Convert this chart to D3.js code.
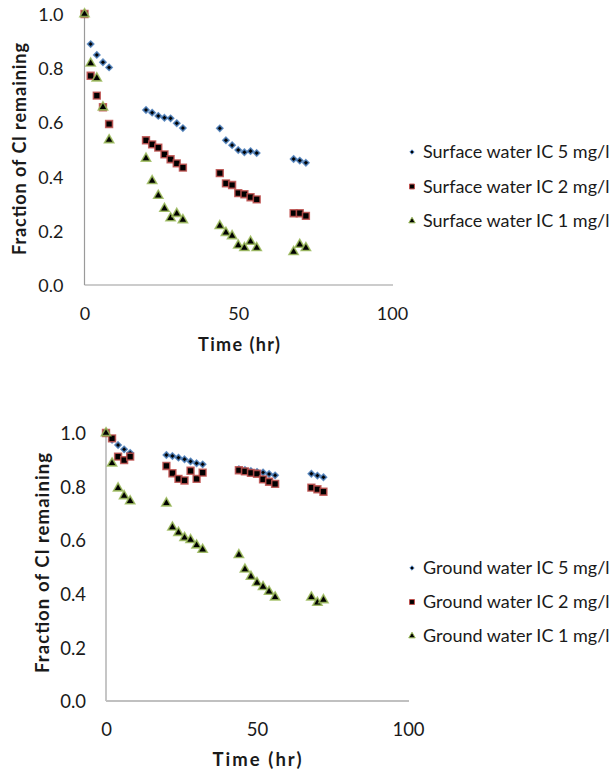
<!DOCTYPE html>
<html>
<head>
<meta charset="UTF-8">
<script src="https://d3js.org/d3.v7.min.js"></script>
<title>Fraction of Cl remaining</title>
<style>
  body { margin:0; background:#fff; }
  text { font-family: Lato, "Open Sans", sans-serif; fill:#1a1a1a; }
  .ttl { font-weight:bold; }
</style>
</head>
<body>
<div id="chart"></div>
<script>
// sampling times (hr), same for all series
var hours = [0,2,4,6,8,20,22,24,26,28,30,32,44,46,48,50,52,54,56,68,70,72];

// surface water
var sw5 = [1.0,0.889,0.849,0.822,0.803,0.646,0.636,0.624,0.617,0.615,0.597,0.579,0.578,0.534,0.516,0.498,0.490,0.494,0.487,0.465,0.459,0.451];
var sw2 = [1.0,0.772,0.699,0.656,0.594,0.534,0.519,0.507,0.482,0.464,0.449,0.433,0.413,0.375,0.369,0.339,0.335,0.324,0.316,0.265,0.265,0.255];
var sw1 = [1.0,0.818,0.763,0.656,0.535,0.467,0.384,0.330,0.282,0.247,0.263,0.240,0.218,0.193,0.181,0.146,0.137,0.160,0.137,0.122,0.149,0.137];

// ground water
var gw5 = [1.0,0.975,0.955,0.939,0.926,0.918,0.914,0.908,0.902,0.894,0.887,0.883,0.865,0.862,0.858,0.855,0.853,0.847,0.842,0.848,0.841,0.835];
var gw2 = [1.0,0.980,0.912,0.899,0.912,0.877,0.850,0.829,0.823,0.859,0.829,0.852,0.861,0.857,0.851,0.848,0.827,0.818,0.810,0.796,0.790,0.781];
var gw1 = [1.0,0.887,0.794,0.765,0.746,0.738,0.648,0.628,0.609,0.601,0.581,0.565,0.545,0.491,0.464,0.441,0.426,0.408,0.387,0.387,0.367,0.377];

var swNames = ['Surface water IC 5 mg/l','Surface water IC 2 mg/l','Surface water IC 1 mg/l'];
var gwNames = ['Ground water IC 5 mg/l','Ground water IC 2 mg/l','Ground water IC 1 mg/l'];
var xTicks = [0,50,100];
var yTicks = [0,0.2,0.4,0.6,0.8,1.0];

var W = 612, H = 776;
var svg = d3.select('#chart').append('svg').attr('width',W).attr('height',H);

// marker looks: colored edge, black fill
var marks = [
  {type:d3.symbolDiamond2, size:24, legSize:12, color:'#4a7ebb'},
  {type:d3.symbolSquare,   size:46, legSize:24, color:'#c0504d'},
  {type:d3.symbolTriangle, size:36, legSize:18, color:'#9bbb59'}
];

function panel(p){
  var x = d3.scaleLinear().domain([0,100]).range([p.x0,p.x1]);
  var y = d3.scaleLinear().domain([0,1]).range([p.yb,p.yt]);
  var g = svg.append('g');

  // axis lines
  g.append('line').attr('x1',x(0)).attr('x2',x(0)).attr('y1',y(1)).attr('y2',y(0))
    .attr('stroke',p.axisColor).attr('stroke-width',p.axisW);
  g.append('line').attr('x1',x(0)).attr('x2',x(100)+1).attr('y1',y(0)).attr('y2',y(0))
    .attr('stroke',p.axisColor).attr('stroke-width',p.axisW);

  var xa = g.append('g').attr('transform','translate(0,'+y(0)+')')
    .call(d3.axisBottom(x).tickValues(xTicks).tickSize(0).tickFormat(d3.format('d')));
  xa.select('.domain').remove();
  xa.selectAll('text').attr('dy',null).attr('y',35).style('font-size',p.fs+'px');

  var ya = g.append('g').attr('transform','translate('+x(0)+',0)')
    .call(d3.axisLeft(y).tickValues(yTicks).tickSize(0).tickPadding(p.yPad).tickFormat(d3.format('.1f')));
  ya.select('.domain').remove();
  ya.selectAll('text').attr('dy','0.36em').style('font-size',p.fs+'px');

  // titles
  g.append('text').attr('class','ttl').attr('text-anchor','middle').style('font-size',p.fs+'px')
    .attr('x',p.xtX).attr('y',p.xtY).attr('textLength',p.xtLen).text('Time (hr)');
  g.append('text').attr('class','ttl').attr('text-anchor','middle').style('font-size',p.fs+'px')
    .attr('transform','translate('+p.ytX+','+p.ytY+') rotate(-90)').attr('dy','0.35em')
    .attr('textLength',p.ytLen).text('Fraction of Cl remaining');

  // points
  p.series.forEach(function(vals,si){
    var m = marks[si];
    g.append('g').selectAll('path').data(vals).enter().append('path')
      .attr('d',d3.symbol().type(m.type).size(m.size))
      .attr('transform',function(d,i){ return 'translate('+x(hours[i])+','+y(d)+')'; })
      .attr('fill','#000').attr('stroke',m.color).attr('stroke-width',1.6)
      .attr('stroke-opacity',0.85);
  });

  // legend
  p.names.forEach(function(n,si){
    var m = marks[si];
    var ly = p.legY + si*p.legStep;
    g.append('path').attr('d',d3.symbol().type(m.type).size(m.legSize))
      .attr('transform','translate(412,'+ly+')')
      .attr('fill','#000').attr('stroke',m.color).attr('stroke-width',1);
    g.append('text').attr('x',423).attr('y',ly).attr('dy','0.36em')
      .style('font-size','18px').text(n);
  });
}

panel({x0:84.5, x1:392, yt:14, yb:285, axisColor:'#9a9a9a', axisW:1.2, yPad:21, fs:18,
  xtX:239, xtY:351, xtLen:82, ytX:20, ytY:149, ytLen:212,
  series:[sw5,sw2,sw1], names:swNames, legY:152, legStep:34.5});
panel({x0:106, x1:408, yt:433, yb:701, axisColor:'#c0c0c0', axisW:1.8, yPad:20, fs:18.5,
  xtX:257, xtY:766, xtLen:89, ytX:43, ytY:563, ytLen:220,
  series:[gw5,gw2,gw1], names:gwNames, legY:568, legStep:34});
</script>
</body>
</html>
